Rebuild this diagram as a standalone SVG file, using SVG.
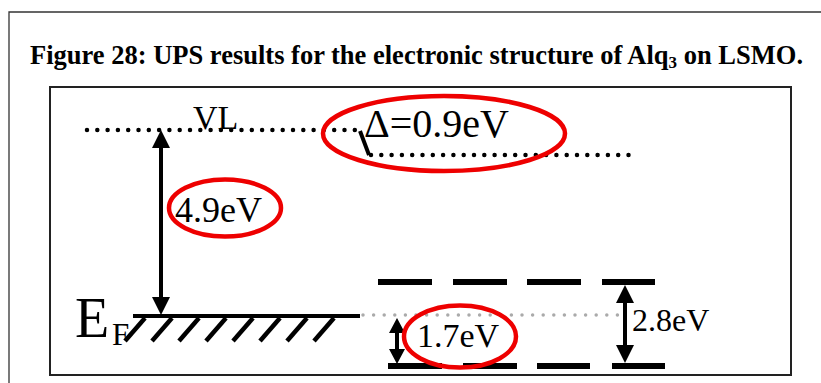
<svg xmlns="http://www.w3.org/2000/svg" width="821" height="383" viewBox="0 0 821 383">
<defs>
<style>
.lbl{font-family:"Liberation Serif","Times New Roman",serif;fill:#000}
.title{font-family:"Liberation Serif","Times New Roman",serif;font-weight:bold;font-size:26.5px;fill:#000}
.dots{fill:none;stroke:#000;stroke-width:4.5;stroke-linecap:round;stroke-dasharray:0 10.3}
.gdots{fill:none;stroke:#aaa;stroke-width:3.5;stroke-linecap:round;stroke-dasharray:0 10.6}
.lvl{fill:none;stroke:#000;stroke-width:6}
.arr{fill:none;stroke:#000;stroke-width:4}
.hl{fill:none;stroke:#ee0000;stroke-width:4.5}
</style>
<marker id="ahB" markerUnits="userSpaceOnUse" markerWidth="18" markerHeight="18" refX="0" refY="9" orient="auto-start-reverse" overflow="visible"><path d="M0,0 L18,9 L0,18 Z" fill="#000"/></marker>
<marker id="ahS" markerUnits="userSpaceOnUse" markerWidth="15" markerHeight="16" refX="0" refY="8" orient="auto-start-reverse" overflow="visible"><path d="M0,0 L15,8 L0,16 Z" fill="#000"/></marker>
</defs>
<rect width="821" height="383" fill="#fff"/>
<path d="M9,383 V12 H821" fill="none" stroke="#333" stroke-width="1.3"/>
<text id="title" class="title" x="30" y="64">Figure 28: UPS results for the electronic structure of Alq<tspan font-size="17" dy="4">3</tspan><tspan dy="-4"> on LSMO.</tspan></text>
<rect id="frame" x="50" y="87" width="741" height="288" fill="none" stroke="#222" stroke-width="2"/>

<g id="vacuum-level">
<line class="dots" x1="87" y1="130" x2="357" y2="130"/>
<line class="dots" x1="371" y1="155" x2="633" y2="155"/>
<line x1="360" y1="131" x2="369" y2="155" stroke="#000" stroke-width="4"/>
<text class="lbl" x="193" y="129" font-size="34">VL</text>
</g>

<g id="fermi-level">
<line x1="133" y1="316" x2="360" y2="316" stroke="#000" stroke-width="4"/>
<g stroke="#000" stroke-width="4.5">
<line x1="125" y1="341" x2="145" y2="318"/>
<line x1="152" y1="341" x2="172" y2="318"/>
<line x1="179" y1="341" x2="199" y2="318"/>
<line x1="206" y1="341" x2="226" y2="318"/>
<line x1="233" y1="341" x2="253" y2="318"/>
<line x1="260" y1="341" x2="280" y2="318"/>
<line x1="287" y1="341" x2="307" y2="318"/>
<line x1="314" y1="341" x2="334" y2="318"/>
</g>
<text class="lbl" x="75" y="337" font-size="56">E</text>
<text class="lbl" x="112" y="345" font-size="31">F</text>
<line class="gdots" x1="363" y1="315" x2="625" y2="315"/>
</g>

<g id="lumo">
<line class="lvl" x1="378" y1="282" x2="432" y2="282"/>
<line class="lvl" x1="453" y1="282" x2="507" y2="282"/>
<line class="lvl" x1="527" y1="282" x2="581" y2="282"/>
<line class="lvl" x1="602" y1="282" x2="655" y2="282"/>
</g>
<g id="homo">
<line class="lvl" x1="388" y1="366" x2="442" y2="366"/>
<line class="lvl" x1="463" y1="366" x2="517" y2="366"/>
<line class="lvl" x1="537" y1="366" x2="590" y2="366"/>
<line class="lvl" x1="612" y1="366" x2="665" y2="366"/>
</g>

<g id="connectors">
<line class="arr" x1="161" y1="148" x2="161" y2="297" marker-start="url(#ahB)" marker-end="url(#ahB)"/>
<line class="arr" x1="397" y1="333" x2="397" y2="349" marker-start="url(#ahS)" marker-end="url(#ahS)"/>
<line class="arr" x1="625" y1="303" x2="625" y2="345" marker-start="url(#ahB)" marker-end="url(#ahB)"/>
</g>

<g id="label-delta">
<text class="lbl" x="364" y="137" font-size="40">Δ=0.9eV</text>
<ellipse class="hl" cx="444" cy="133.5" rx="121" ry="37.5"/>
</g>
<g id="label-49">
<text class="lbl" x="175" y="222" font-size="36">4.9eV</text>
<ellipse class="hl" cx="225" cy="208" rx="56" ry="28.5"/>
</g>
<g id="label-17">
<text class="lbl" x="417" y="347" font-size="34">1.7eV</text>
<ellipse class="hl" cx="460" cy="336.5" rx="56" ry="31"/>
</g>
<g id="label-28">
<text class="lbl" x="632" y="331" font-size="32">2.8eV</text>
</g>
</svg>
